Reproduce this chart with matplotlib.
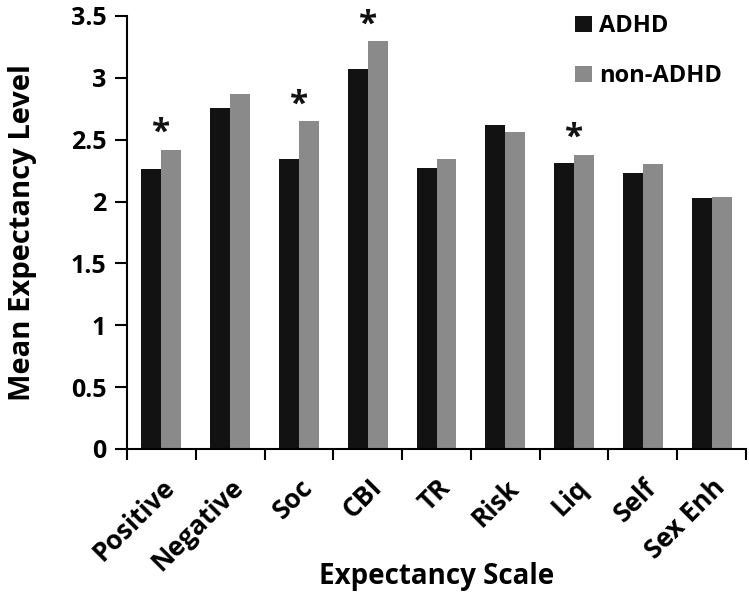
import matplotlib.pyplot as plt
import numpy as np

categories = ["Positive", "Negative", "Soc", "CBI", "TR", "Risk", "Liq", "Self", "Sex Enh"]
adhd = [2.26, 2.76, 2.34, 3.07, 2.27, 2.62, 2.31, 2.23, 2.03]
non_adhd = [2.42, 2.87, 2.65, 3.30, 2.34, 2.56, 2.38, 2.30, 2.04]
significant = [True, False, True, True, False, False, True, False, False]
y_ticks = [0, 0.5, 1, 1.5, 2, 2.5, 3, 3.5]
y_tick_labels = ["0", "0.5", "1", "1.5", "2", "2.5", "3", "3.5"]

plt.rcParams['font.family'] = ['Open Sans', 'DejaVu Sans']
plt.rcParams['font.weight'] = 'bold'

fig = plt.figure(figsize=(7.49, 6.05), dpi=100)
ax = fig.add_axes([0.1696, 0.2579, 0.8264, 0.7157])

x = np.arange(len(categories))
w = 0.29
ax.bar(x - w / 2, adhd, w, color="#121212", label="ADHD")
ax.bar(x + w / 2, non_adhd, w, color="#8a8a8a", label="non-ADHD")

# significance stars above each marked pair
for i, sig in enumerate(significant):
    if sig:
        ax.text(x[i], max(adhd[i], non_adhd[i]) - 0.005, "*", ha="center", va="bottom",
                fontsize=24, fontweight="bold", color="#121212")

ax.set_xlim(-0.5, len(categories) - 0.5)
ax.set_ylim(0, 3.5)
ax.set_yticks(y_ticks)
ax.set_yticklabels(y_tick_labels, fontsize=18, fontweight="bold")

# category labels between boundary ticks
ax.set_xticks(np.arange(len(categories) + 1) - 0.5)
ax.set_xticklabels([])
ax.set_xticks(x, minor=True)
ax.set_xticklabels(categories, minor=True, rotation=45, ha="right", rotation_mode="anchor",
                   fontsize=19, fontweight="bold")
ax.tick_params(axis="x", which="minor", length=0, pad=18)
ax.tick_params(axis="x", which="major", length=8, width=1.5, direction="out")
ax.tick_params(axis="y", length=9, width=1.5, direction="out", pad=6)

for s in ["top", "right"]:
    ax.spines[s].set_visible(False)
for s in ["left", "bottom"]:
    ax.spines[s].set_linewidth(1.5)

ax.set_ylabel("Mean Expectancy Level", fontsize=21, fontweight="bold", labelpad=24)
ax.set_xlabel("Expectancy Scale", fontsize=20, fontweight="bold")
ax.xaxis.set_label_coords(0.5, -0.262)

ax.legend(loc="upper left", bbox_to_anchor=(0.69, 1.053), frameon=False, fontsize=17,
          handlelength=0.7, handleheight=0.7, labelspacing=1.1, handletextpad=0.3)

fig.savefig("out.png", dpi=100)
